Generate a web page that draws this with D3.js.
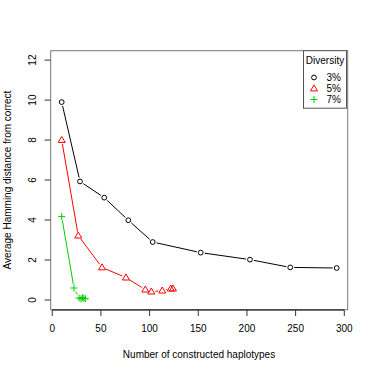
<!DOCTYPE html>
<html>
<head>
<meta charset="utf-8">
<script src="https://cdn.jsdelivr.net/npm/d3@7"></script>
<style>
  body { margin: 0; background: #fff; }
  text { font-family: "Liberation Sans", Arial, Helvetica, sans-serif; font-size: 10px; fill: #000; }
</style>
</head>
<body>
<div id="chart"></div>
<script>
// data
let x3 = [9.7, 28.5, 53.4, 78.1, 103.2, 152.5, 203.1, 244.5, 292.2];
let y3 = [9.9, 5.93, 5.12, 3.99, 2.9, 2.37, 2.02, 1.63, 1.6];
let x5 = [9.7, 26.7, 51.1, 75.7, 95.6, 101.8, 113, 121.7, 124];
let y5 = [8.0, 3.22, 1.63, 1.12, 0.52, 0.42, 0.47, 0.57, 0.57];
let x7 = [9.7, 22.3, 27.5, 29.5, 31, 32.5, 34];
let y7 = [4.17, 0.6, 0.1, 0.06, 0.12, 0.08, 0.06];
let xTicks = [0, 50, 100, 150, 200, 250, 300];
let yTicks = [0, 2, 4, 6, 8, 10, 12];
let legendLabels = ["3%", "5%", "7%"];
let legendTitle = "Diversity";

let W = 374, H = 374;
let svg = d3.select("#chart").append("svg").attr("width", W).attr("height", H);

let x = d3.scaleLinear().domain([-1.6, 303.5]).range([50.7, 347.7]);
let y = d3.scaleLinear().domain([-0.485, 12.47]).range([309.7, 50.7]);

// box
svg.append("rect")
  .attr("x", 50.7).attr("y", 50.7)
  .attr("width", 297).attr("height", 259)
  .attr("fill", "none").attr("stroke", "#777").attr("stroke-width", 1);

// x axis
let xa = svg.append("g");
xa.append("line")
  .attr("x1", x(0)).attr("x2", x(300))
  .attr("y1", 310).attr("y2", 310)
  .attr("stroke", "#000");
xTicks.forEach(function (t) {
  xa.append("line")
    .attr("x1", x(t)).attr("x2", x(t))
    .attr("y1", 310).attr("y2", 316)
    .attr("stroke", "#333");
  xa.append("text")
    .attr("x", x(t)).attr("y", 332)
    .attr("text-anchor", "middle")
    .text(t);
});

// y axis
let ya = svg.append("g");
yTicks.forEach(function (t) {
  ya.append("line")
    .attr("x1", 44.5).attr("x2", 50.7)
    .attr("y1", y(t)).attr("y2", y(t))
    .attr("stroke", "#333");
  ya.append("text")
    .attr("transform", "translate(36," + y(t) + ") rotate(-90)")
    .attr("text-anchor", "middle")
    .text(t);
});

svg.append("text")
  .attr("x", 199).attr("y", 358)
  .attr("text-anchor", "middle")
  .text("Number of constructed haplotypes");
svg.append("text")
  .attr("transform", "translate(11,180) rotate(-90)")
  .attr("text-anchor", "middle")
  .text("Average Hamming distance from correct");

// line with gaps round the points, like R type="b"
function drawSeries(xs, ys, color, shape) {
  let g = svg.append("g");
  let gap = 4;
  for (let i = 0; i < xs.length - 1; i++) {
    let ax = x(xs[i]), ay = y(ys[i]);
    let bx = x(xs[i + 1]), by = y(ys[i + 1]);
    let d = Math.hypot(bx - ax, by - ay);
    if (d > 2 * gap) {
      let ux = (bx - ax) / d, uy = (by - ay) / d;
      g.append("line")
        .attr("x1", ax + ux * gap).attr("y1", ay + uy * gap)
        .attr("x2", bx - ux * gap).attr("y2", by - uy * gap)
        .attr("stroke", color).attr("stroke-width", 1);
    }
  }
  for (let i = 0; i < xs.length; i++) {
    drawShape(g, shape, x(xs[i]), y(ys[i]), color);
  }
}

function drawShape(g, shape, cx, cy, color) {
  if (shape === "circle") {
    g.append("circle")
      .attr("cx", cx).attr("cy", cy).attr("r", 2.4)
      .attr("fill", "none").attr("stroke", color);
  } else if (shape === "triangle") {
    g.append("path")
      .attr("d", "M" + cx + "," + (cy - 3.6) + "L" + (cx + 3.5) + "," + (cy + 2.4) +
        "L" + (cx - 3.5) + "," + (cy + 2.4) + "Z")
      .attr("fill", "none").attr("stroke", color);
  } else {
    g.append("path")
      .attr("d", "M" + (cx - 3.5) + "," + cy + "H" + (cx + 3.5) +
        "M" + cx + "," + (cy - 3.5) + "V" + (cy + 3.5))
      .attr("fill", "none").attr("stroke", color);
  }
}

let colors = ["#000000", "#ff0000", "#00cd00"];
let shapes = ["circle", "triangle", "plus"];
drawSeries(x3, y3, colors[0], shapes[0]);
drawSeries(x5, y5, colors[1], shapes[1]);
drawSeries(x7, y7, colors[2], shapes[2]);

// legend
let lg = svg.append("g");
lg.append("rect")
  .attr("x", 303.5).attr("y", 50.7)
  .attr("width", 43).attr("height", 57.5)
  .attr("fill", "#fff").attr("stroke", "#555");
lg.append("text")
  .attr("x", 325).attr("y", 64)
  .attr("text-anchor", "middle")
  .text(legendTitle);
legendLabels.forEach(function (lab, i) {
  let cy = 77.5 + i * 11;
  drawShape(lg, shapes[i], 314, cy, colors[i]);
  lg.append("text")
    .attr("x", 326.5).attr("y", cy + 3.5)
    .text(lab);
});
</script>
</body>
</html>
